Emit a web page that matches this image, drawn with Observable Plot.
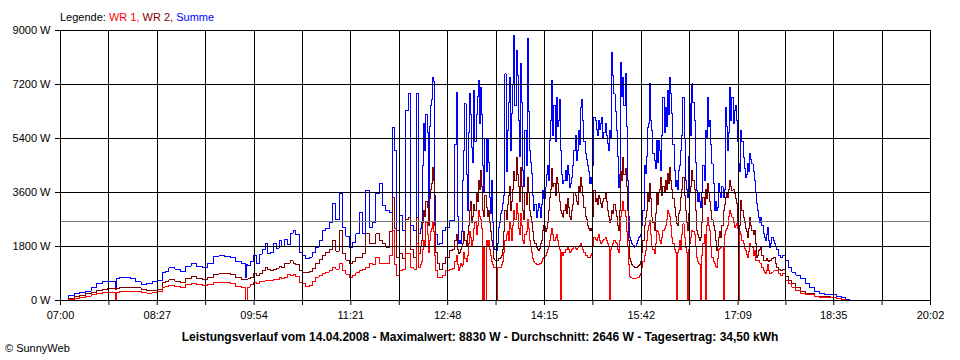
<!DOCTYPE html>
<html><head><meta charset="utf-8">
<script src="https://cdn.jsdelivr.net/npm/d3@7"></script>
<script src="https://cdn.jsdelivr.net/npm/@observablehq/plot@0.6"></script>
<style>body{margin:0;background:#fff}#chart svg{display:block}</style>
</head><body><div id="chart"></div>
<script>
// time in minutes since midnight
const times = [
420,425,430,435,440,445,450,455,460,465,469,470,471,475,480,485,490,495,500,505,
510,513,515,520,525,530,535,540,545,550,555,560,565,570,575,580,585,587,588,589,
592,595,598,600,603,605,607,610,613,615,618,620,623,625,628,630,
633,636,639,642,645,648,651,654,657,660,663,666,669,672,675,678,681,684,687,690,
693,696,699,702,705,708,711,714,717,719,721,723,726,729,732,734,736,739,741,
743,744,745,746,747,748,749,750,751,752,753,754,755,756,757,758,759,
762,765,768,771,
774,775,776,777,778,779,780,781,782,783,
784,785,786,787,788,789,790,791,792,793,
794,795,796,797,798,799,800,801,802,803,
804,805,806,807,808,809,810,811,812,813,
814,815,816,817,818,819,820,821,822,823,
824,825,826,827,828,829,830,831,832,833,
834,835,836,837,838,839,840,841,842,843,
844,845,846,847,848,849,850,851,852,853,
854,855,856,857,858,859,860,861,862,863,
864,865,866,867,868,869,870,871,872,873,
874,875,876,877,878,879,880,881,882,883,
884,885,886,887,888,889,890,891,892,893,
894,895,896,897,898,899,900,901,902,903,
904,905,906,907,908,909,910,911,912,913,
914,915,916,917,918,919,920,921,922,923,
924,925,926,927,928,929,930,931,932,933,
934,935,936,937,938,939,940,941,942,943,
944,945,946,947,948,949,950,951,952,953,
954,955,956,957,958,959,960,961,962,963,
964,965,966,967,968,969,970,971,972,973,
974,975,976,977,978,979,980,981,982,983,
984,985,986,987,988,989,990,991,992,993,
994,995,996,997,998,999,1000,1001,1002,1003,
1004,1005,1006,1007,1008,1009,1010,1011,1012,1013,
1014,1015,1016,1017,1018,1019,1020,1021,1022,1023,
1024,1025,1026,1027,1028,1029,1030,1031,1032,1033,
1034,1035,1036,1037,1038,1039,1040,1041,1042,1043,
1044,1045,1046,1047,1048,1049,1050,1051,1052,1053,
1054,1055,1056,1057,1058,1059,1060,1061,1062,1063,
1064,
1066,1068,1070,1073,1076,1079,1083,1088,1092,1095,1100,1104,1110,1115,1120,1124,1127,1131
];
// Summe (W)
const summe = [
0,0,170,240,280,310,420,560,620,640,630,380,720,780,770,740,620,540,580,620,
680,930,970,1090,1050,980,1150,1220,1120,1090,1230,1480,1500,1480,1420,1300,1230,780,1200,1170,
1300,1500,1220,1550,1700,1890,1560,1600,1900,1750,2000,1800,2050,1880,2250,2330,
2200,1600,1500,1390,1450,1600,1780,2000,2330,2400,2610,3230,2700,3570,2440,2150,1780,1950,2220,2940,
2220,3670,2440,2600,3570,3890,3170,3000,2940,5780,5000,2330,2830,2330,6330,6890,2500,2330,6890,
2220,2400,2600,4500,5900,5000,6200,5600,3000,5800,6500,6700,7440,7300,3500,2200,1880,
1900,2330,2440,2670,
2670,5200,6940,2800,1890,2000,1890,2300,4000,5000,
6560,4200,3000,5600,6900,6200,5100,4600,7000,5300,
6200,6800,7330,5900,7100,6200,4500,3600,5400,4300,
5400,4600,3440,2900,4000,2600,1780,1700,1670,1900,
2440,2600,2890,3000,3220,3500,7560,4300,5670,6600,
7440,5000,6220,7200,8830,6500,8330,7500,6000,4800,
7890,6600,4330,3800,5670,4500,8720,6300,5000,4600,
4220,3500,3000,3200,2780,3000,3220,3100,2780,3200,
3670,3400,3780,4200,4500,4000,5330,6000,7330,5500,
6500,5300,6780,5800,6000,6700,5000,4200,3890,4000,
4330,4000,4500,4200,3780,3900,4110,4500,5000,5500,
4670,5000,5670,5200,6440,6700,6000,5300,4890,4700,
4500,4300,3890,4100,3890,4500,6110,6000,5700,5500,
6000,5700,5890,6100,5440,5600,5890,5500,5220,5000,
5670,5400,8280,7500,6890,6300,5670,4800,3780,4200,
7940,6800,7440,6500,7560,5800,4000,2800,2100,2000,
1900,1850,1780,1800,1900,2000,2110,2150,2200,2500,
3000,4500,4220,4800,5780,5900,7220,6000,5670,4900,
4670,4400,5330,4600,5330,5000,4330,5500,6780,5600,
6440,5800,7000,6200,7440,6900,6220,5200,4330,3800,
4000,3700,4330,4500,5000,5500,6780,5400,4000,3700,
3440,4800,6560,5500,7220,6600,6000,4600,3670,3300,
3560,3300,3110,3600,4500,4000,5670,5400,6780,5800,
6000,5200,4560,3900,3000,3300,3000,3100,3890,3600,
3440,3800,3440,3700,6440,5800,5000,5600,7110,6000,
6780,5900,6330,6500,6000,5300,4560,4300,5670,5300,
4780,4400,4110,4200,4560,4300,4890,4700,4560,4300,
4000,3600,3220,3000,2780,2600,2780,2500,2220,2100,
2000,2200,2440,2000,1780,1900,2100,2000,1900,1800,
1700,
1500,1450,1500,1330,1100,944,850,722,560,444,300,222,210,200,150,89,50,0
];
// WR 2 (W)
const wr2 = [
0,0,60,120,180,230,280,330,370,390,390,380,400,420,440,440,420,380,340,345,
360,600,640,690,650,610,740,800,720,690,760,880,890,890,880,760,700,690,700,720,
780,890,820,900,1000,1110,1050,1000,1020,1080,1150,1100,1220,1250,1330,1240,
1200,1000,950,920,960,1080,1220,1380,1500,1610,1700,2000,1650,2330,1580,1350,1220,1300,1440,1440,
1560,2220,1890,1900,2220,2000,1900,1780,2300,3440,2400,1440,1560,1400,2700,2780,1700,1440,2780,
1560,1800,2000,2600,3000,2800,3300,3100,2500,3400,3700,3900,4440,4000,2500,1600,1220,
1040,1220,1440,1670,
1700,2000,2200,1700,1560,1600,1700,1800,1900,2300,
2000,1800,2200,2500,3000,3300,2600,2800,3200,3000,
3600,3300,4000,3700,4330,3800,3000,2800,3500,3100,
2800,3000,2600,2300,2000,1800,1400,1350,1330,1330,
1400,1400,1440,1500,1700,2300,3000,2700,3200,3500,
3800,3000,3300,3700,4300,4000,4780,4200,3800,3300,
4440,3800,3000,2700,3600,3200,4100,3600,3000,2800,
2600,2300,2000,1900,1780,1700,1670,1750,1890,2000,
2330,2500,2300,2400,2600,3000,3440,3700,4390,3800,
3900,3500,4100,3900,3600,3300,3000,2900,2780,3000,
3200,2900,3400,3100,2800,2700,3000,3200,3600,3500,
3300,3200,3800,3600,4110,3800,3500,3100,2800,2700,
2500,2400,2330,2400,2330,2800,3670,3300,3400,3200,
3500,3400,3220,3100,3300,3400,3600,3300,3000,2800,
2600,2700,3000,2900,3200,3000,2800,2500,2330,3000,
4300,4000,4780,4200,4400,3800,3000,2000,1400,1300,
1200,1150,1100,1100,1100,1130,1170,1200,1300,1600,
2000,2500,2780,3000,3560,3300,3890,3400,2780,2600,
2330,2900,3560,3200,3600,3700,4110,3500,3800,3600,
4000,3700,4220,3900,4440,4000,3700,3400,3100,2800,
2560,2500,2900,3000,3440,3700,4110,3500,3000,2600,
2330,2900,3600,3800,4330,4000,3700,3000,2330,2200,
2100,2000,2110,2600,3440,3200,3700,3400,3890,3600,
3300,3000,2700,2500,2330,2000,1670,1800,2100,2300,
2110,2500,3000,3200,3440,3600,3440,3700,4000,3800,
3670,3700,3560,3400,3220,2600,1890,2500,3330,3000,
2780,2600,2400,2300,2110,2400,2780,2500,2330,2200,
2330,1900,1440,1500,1670,1700,1780,1500,1330,1350,
1330,1400,1330,1300,1330,1350,1400,1450,1440,1250,
1110,
1050,1000,1050,800,680,556,420,300,240,222,150,133,120,111,80,40,0,0
];
// WR 1 (W)
const wr1 = [
0,0,30,60,110,150,190,230,260,280,280,0,280,300,300,300,290,270,250,255,
300,440,470,500,480,450,540,580,520,500,540,610,610,590,580,470,440,0,0,450,
520,610,560,620,650,670,660,680,690,700,760,720,780,860,820,860,
800,600,560,470,500,620,780,850,900,950,1000,1100,1050,1220,1000,880,780,850,920,1000,
1050,1110,1220,1200,1440,1250,1220,1220,1500,2330,1200,850,1000,1050,1560,1560,1100,1050,1890,
1110,1200,1300,1700,2000,1800,2600,2200,1600,2000,2300,2400,2600,2300,1500,1000,780,
780,850,1000,1050,
1070,1300,1500,1200,1000,1100,1220,1150,1200,1600,
1400,1300,1500,1900,2300,2100,1800,2000,2400,2600,
2200,2500,3000,2800,2700,2400,0,1800,0,2000,
1800,2000,1700,1500,1300,1200,1100,1100,0,1100,
1100,1100,1100,1200,1300,1600,2000,2200,2300,2000,
2600,2400,2000,2500,3000,2700,3220,2900,2400,2200,
2900,2500,2000,1900,2200,2300,2700,2400,2000,1800,
1600,1400,1300,1250,1200,1200,1200,1220,1250,1300,
1400,1450,1500,1600,1700,1800,2000,2200,2400,2200,
2000,2100,2200,2000,1800,1700,0,1600,1500,1600,
1700,1700,1800,1700,1600,1650,1700,1750,1800,1750,
1700,1750,1800,1850,1900,1800,1700,1600,1500,1500,
1450,1450,1450,1500,1560,1800,2100,2050,2000,2100,
2200,2000,1900,1950,2000,2050,2100,2000,1900,1800,
0,1700,1800,1900,2000,1950,1900,1700,1600,2000,
2800,3000,3300,3000,2800,2300,1800,1200,800,780,
750,730,720,730,750,760,780,840,900,1100,
1300,1500,1670,2000,2330,2500,2670,2200,1800,1700,
1560,1900,2330,2300,2200,2000,1890,2100,2330,2400,
2500,2700,3000,2900,2800,2500,2100,1900,1700,1600,
0,1600,1700,2000,1700,2200,2560,2100,1780,1600,
0,1700,1900,2100,2330,2300,2200,1800,1440,1300,
1220,1200,0,1500,1900,2200,0,2500,2780,2500,
2330,1800,1440,1300,1220,1150,1110,1400,1700,1750,
1780,1800,0,2200,2330,2400,2500,2800,3000,2900,
2780,2600,2440,2500,2560,2400,0,2300,2200,2000,
1890,1750,1670,1550,1440,1650,1890,1800,1780,1500,
1670,1330,1330,1330,1330,1250,1220,1100,1000,950,
890,1000,1200,1000,890,900,950,980,1000,1000,
1000,
900,850,900,680,560,444,330,230,200,189,130,111,100,89,60,30,0,0
];
const xTickLabels = ["07:00","08:27","09:54","11:21","12:48","14:15","15:42","17:09","18:35","20:02"];
const yTicks = [0, 1800, 3600, 5400, 7200, 9000];
const average = 2646;
const legendText = ["Legende: ", "WR 1, ", "WR 2, ", "Summe"];
const legendColors = ["#000000", "#ff0000", "#800000", "#0000ff"];
const captionText = "Leistungsverlauf vom 14.04.2008 - Maximalwert: 8830 W - Durchschnitt: 2646 W - Tagesertrag: 34,50 kWh";
const creditText = "\u00A9 SunnyWeb";

if (summe.length !== times.length || wr1.length !== times.length || wr2.length !== times.length)
  throw new Error(`length mismatch ${times.length} ${summe.length} ${wr2.length} ${wr1.length}`);

const toMin = s => { const [h, m] = s.split(":").map(Number); return h * 60 + m; };
const labeled = xTickLabels.map(toMin);
const xTicks = labeled.flatMap((v, i) => i < labeled.length - 1 ? [v, (v + labeled[i + 1]) / 2] : [v]);
const labelOf = new Map(labeled.map((v, i) => [v, xTickLabels[i]]));
const rows = times.map((t, i) => ({t, summe: summe[i], wr2: wr2[i], wr1: wr1[i]}));

const lineOpts = {x: "t", curve: "step", strokeWidth: 1, shapeRendering: "crispEdges"};
const chart = Plot.plot({
  width: 960, height: 360,
  marginLeft: 60, marginRight: 30, marginTop: 30, marginBottom: 60,
  style: {fontFamily: "'Liberation Sans', Arial, sans-serif", fontSize: "11px", color: "#000", background: "#fff", overflow: "visible"},
  x: {domain: [labeled[0], labeled[labeled.length - 1]], label: null},
  y: {domain: [0, 9000], label: null},
  marks: [
    Plot.line(rows, {...lineOpts, y: "summe", stroke: "#0000ff"}),
    Plot.line(rows, {...lineOpts, y: "wr2", stroke: "#800000"}),
    Plot.line(rows, {...lineOpts, y: "wr1", stroke: "#ff0000"}),
    Plot.ruleY([average], {stroke: "#808080", shapeRendering: "crispEdges"}),
    Plot.ruleX(xTicks, {stroke: "#000", shapeRendering: "crispEdges"}),
    Plot.ruleY(yTicks, {stroke: "#000", shapeRendering: "crispEdges"}),
    Plot.axisX({ticks: xTicks, tickSize: 5, tickPadding: 6, label: null, stroke: "#000", tickFormat: d => labelOf.get(d) ?? ""}),
    Plot.axisY({ticks: yTicks, tickSize: 5, tickPadding: 5, label: null, stroke: "#000", tickFormat: d => `${d} W`})
  ]
});
document.getElementById("chart").appendChild(chart);

const svg = d3.select(chart);
const leg = svg.append("text").attr("x", 60).attr("y", 21).attr("text-anchor", "start")
  .attr("font-size", 11).attr("fill", "#000").style("white-space", "pre");
legendText.forEach((s, i) => leg.append("tspan").attr("fill", legendColors[i]).text(s));
svg.append("text").attr("x", 480).attr("y", 341).attr("text-anchor", "middle")
  .attr("font-size", 12).attr("font-weight", "bold").attr("fill", "#000").text(captionText);
svg.append("text").attr("x", 5).attr("y", 352).attr("text-anchor", "start")
  .attr("font-size", 11).attr("fill", "#000").text(creditText);
</script>
</body></html>
